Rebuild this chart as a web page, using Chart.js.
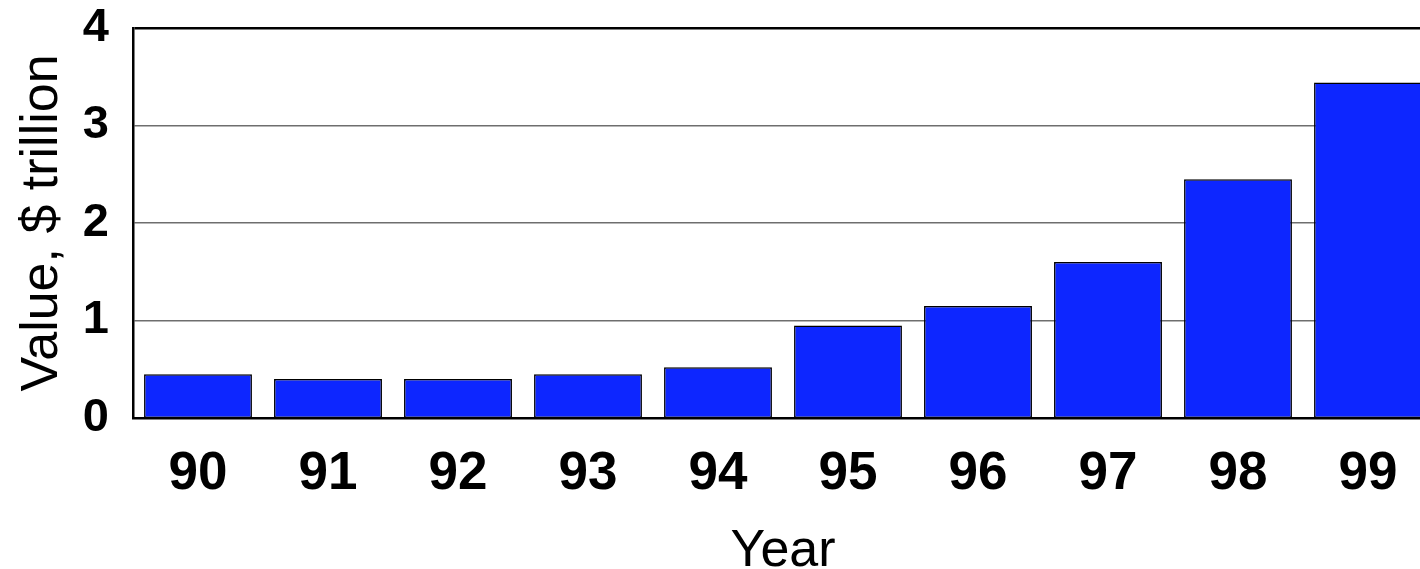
<!DOCTYPE html>
<html>
<head>
<meta charset="utf-8">
<script src="https://cdn.jsdelivr.net/npm/chart.js@4/dist/chart.umd.min.js"></script>
<style>
  html, body { margin: 0; padding: 0; background: #ffffff; overflow: hidden; }
  #wrap { position: relative; width: 1433px; height: 569px; }
</style>
</head>
<body>
<div id="wrap"><canvas id="c"></canvas></div>
<script>
const years = ['90', '91', '92', '93', '94', '95', '96', '97', '98', '99'];
const values = [0.45, 0.40, 0.40, 0.45, 0.52, 0.95, 1.15, 1.60, 2.45, 3.44];
const yTicks = [0, 1, 2, 3, 4];
const xTitle = 'Year';
const yTitle = 'Value, $ trillion';

const FONT = "'Liberation Sans', Arial, Helvetica, sans-serif";

new Chart(document.getElementById('c'), {
  type: 'bar',
  data: {
    labels: years,
    datasets: [{
      data: values,
      backgroundColor: '#0d26ff',
      borderColor: '#000000',
      borderWidth: 1.5,
      borderSkipped: false,
      categoryPercentage: 1.0,
      barPercentage: 0.83
    }]
  },
  options: {
    responsive: true,
    maintainAspectRatio: false,
    animation: false,
    devicePixelRatio: 1,
    layout: { padding: { top: 28, left: 0, right: 0, bottom: 0 } },
    plugins: { legend: { display: false }, tooltip: { enabled: false } },
    scales: {
      x: {
        grid: { display: false, drawTicks: false },
        border: { display: true, color: '#000000', width: 2.5 },
        ticks: {
          color: '#000000',
          font: { family: FONT, size: 53, weight: 'bold' },
          padding: 25,
          maxRotation: 0,
          autoSkip: false
        },
        title: {
          display: true,
          text: xTitle,
          color: '#000000',
          font: { family: FONT, size: 52, weight: 'normal', lineHeight: 1 },
          padding: { top: 0, bottom: -9 }
        },
        afterFit: (s) => { s.height = 151; s.paddingLeft = 0; s.paddingRight = 0; }
      },
      y: {
        min: 0,
        max: 4,
        afterBuildTicks: (s) => { s.ticks = yTicks.map(v => ({ value: v })); },
        grid: {
          drawTicks: false,
          color: (ctx) => ctx.tick && ctx.tick.value === 4 ? '#000000' : '#6e6e6e',
          lineWidth: (ctx) => ctx.tick && ctx.tick.value === 0 ? 0 : (ctx.tick && ctx.tick.value === 4 ? 2.5 : 1.5)
        },
        border: { display: true, color: '#000000', width: 2.5 },
        ticks: {
          color: '#000000',
          font: { family: FONT, size: 47, weight: 'bold' },
          padding: 24,
          callback: (v) => String(v)
        },
        title: {
          display: true,
          text: yTitle,
          color: '#000000',
          font: { family: FONT, size: 52, weight: 'normal', lineHeight: 1 },
          padding: { top: 17, bottom: 0 }
        },
        afterFit: (s) => { s.width = 133; s.paddingTop = 0; s.paddingBottom = 0; }
      }
    }
  }
});
</script>
</body>
</html>
